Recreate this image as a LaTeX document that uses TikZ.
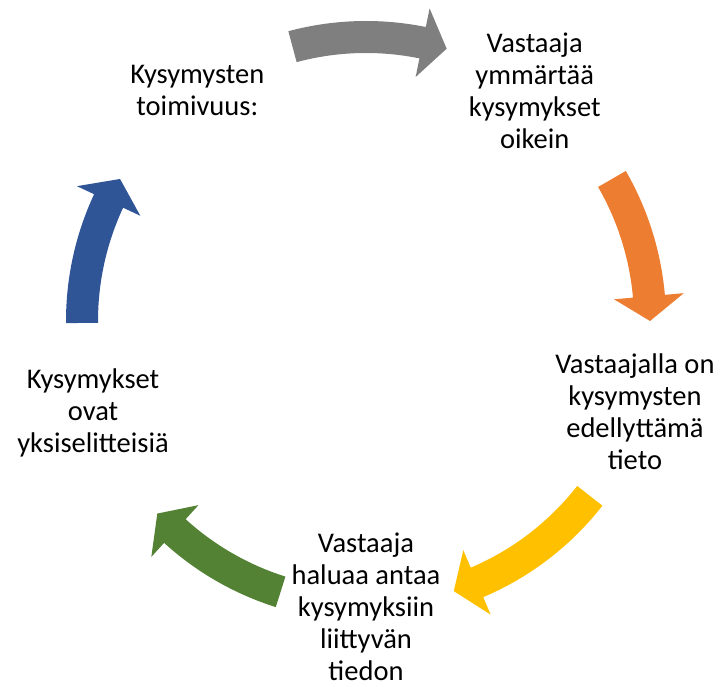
\documentclass[tikz,border=0pt]{standalone}
\usepackage{fontspec}
\setmainfont{Carlito}
\usetikzlibrary{calc}
\definecolor{cgray}{HTML}{7F7F7F}
\definecolor{corange}{HTML}{ED7D31}
\definecolor{cgold}{HTML}{FFC000}
\definecolor{cgreen}{HTML}{548235}
\definecolor{cblue}{HTML}{2F5597}
% curved block arrow on the ring: #1 colour, #2 tail angle, #3 tip angle
\newcommand\ringarrow[3]{%
  \fill[#1, shift={(C)}]
    (#2:300pt) arc[start angle=#2, end angle={#3+5*sign(#2-#3)}, radius=300pt]
    -- ({#3+5*sign(#2-#3)}:319pt) -- (#3:284pt) -- ({#3+5*sign(#2-#3)}:249pt)
    -- ({#3+5*sign(#2-#3)}:268pt)
    arc[start angle={#3+5*sign(#2-#3)}, end angle=#2, radius=268pt] -- cycle;}
\begin{document}
\begin{tikzpicture}[x=1pt,y=1pt,
  label text/.style={align=center, inner sep=0pt,
    font=\fontsize{28.5}{32}\selectfont}]
\useasboundingbox (0,0) rectangle (726,687);
\coordinate (C) at (366,366);
% statements around the ring
\node[label text] (n1) at ($(C)+(126:287pt)+(0,-2)$) {Kysymysten\\toimivuus:};
\node[label text] (n2) at ($(C)+(54:287pt)+(0,-2)$) {Vastaaja\\ymmärtää\\kysymykset\\oikein};
\node[label text] (n3) at ($(C)+(-18:287pt)+(-4,-2)$) {Vastaajalla on\\kysymysten\\edellyttämä\\tieto};
\node[label text] (n4) at ($(C)+(-90:287pt)+(0,1)$) {Vastaaja\\haluaa antaa\\kysymyksiin\\liittyvän\\tiedon};
\node[label text] (n5) at ($(C)+(198:287pt)+(0,-3)$) {Kysymykset\\ovat\\yksiselitteisiä};
% arrows between consecutive statements
\ringarrow{cgray}{105}{73.5}
\ringarrow{corange}{30}{0}
\ringarrow{cgold}{-38}{-72}
\ringarrow{cgreen}{252.5}{222.7}
\ringarrow{cblue}{180.4}{150}
\end{tikzpicture}
\end{document}
